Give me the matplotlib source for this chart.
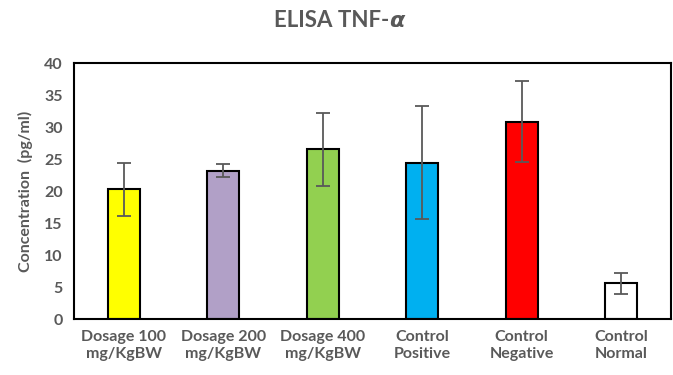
import matplotlib
matplotlib.use('Agg')
import matplotlib.pyplot as plt

categorias = ['Dosage 100\nmg/KgBW', 'Dosage 200\nmg/KgBW', 'Dosage 400\nmg/KgBW',
              'Control\nPositive', 'Control\nNegative', 'Control\nNormal']
valores = [20.3, 23.2, 26.6, 24.5, 30.9, 5.6]
errores = [4.2, 1.0, 5.7, 8.9, 6.3, 1.7]
colores = ['#ffff00', '#b1a0c7', '#92d050', '#00b0f0', '#ff0000', '#ffffff']

gris = '#595959'
plt.rcParams['font.family'] = ['Lato', 'DejaVu Sans']

fig = plt.figure(figsize=(6.73, 3.75), dpi=100)
ax = fig.add_axes([0.110, 0.1485, 0.887, 0.6825])

x = range(len(categorias))
ax.bar(x, valores, width=0.32, color=colores, edgecolor='black', linewidth=1.5,
       yerr=errores, capsize=5, error_kw=dict(ecolor='#595959', elinewidth=1.3, capthick=1.3),
       zorder=2)

ax.set_xlim(-0.5, len(categorias) - 0.5)
ax.set_ylim(0, 40)
ax.set_yticks(range(0, 41, 5))
ax.set_xticks(list(x))
ax.set_xticklabels(categorias, fontsize=11.5, fontweight='bold', color=gris, linespacing=1.2)
ax.tick_params(axis='y', labelsize=11.5, labelcolor=gris, length=0, pad=8)
ax.tick_params(axis='x', length=0, pad=8)
for lab in ax.get_yticklabels():
    lab.set_fontweight('bold')
for s in ax.spines.values():
    s.set_linewidth(1.5)
    s.set_color('black')

ax.set_ylabel('Concentration  (pg/ml)', fontsize=11.5, fontweight='bold', color=gris, labelpad=8)
fig.text(0.578, 0.945, 'ELISA TNF-', ha='right', va='center', fontsize=16,
         fontweight='bold', color=gris)
fig.text(0.578, 0.945, r'$\boldsymbol{\alpha}$', ha='left', va='center', fontsize=16, color=gris)

fig.savefig('out.png', dpi=100)
